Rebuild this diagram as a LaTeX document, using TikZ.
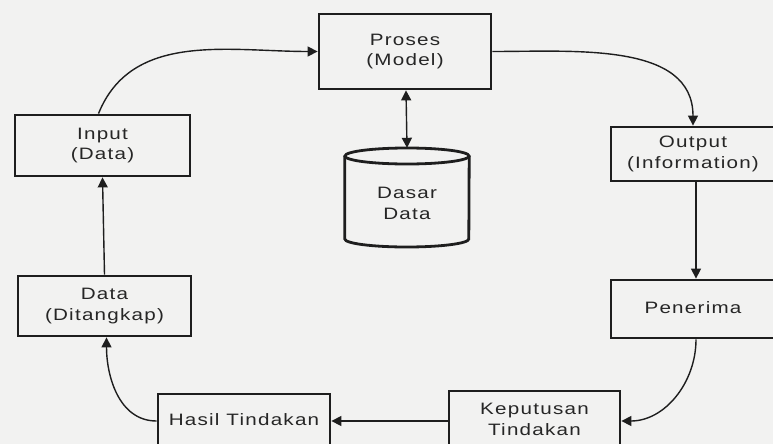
\documentclass[tikz,border=0pt]{standalone}
\usepackage{fontspec}
\usepackage{graphicx}
\usetikzlibrary{arrows.meta}
\newfontfamily\diagfont{Liberation Sans}[LetterSpace=6]
\newcommand{\boxtext}[1]{\scalebox{1.25}[1]{\begin{tabular}{@{}c@{}}#1\end{tabular}}}
\definecolor{paper}{RGB}{242,242,241}
\definecolor{ink}{RGB}{30,30,30}
\definecolor{txt}{RGB}{38,38,38}
\begin{document}
\begin{tikzpicture}[x=1pt,y=1pt,
  stage/.style={draw=ink,line width=2.8pt,rectangle,inner sep=0pt,
    font=\diagfont\fontsize{16.5}{20.5}\selectfont,text=txt},
  flow/.style={draw=ink,line width=1.4pt,-{Triangle[length=10pt,width=10pt]}},
  dflow/.style={draw=ink,line width=1.4pt,{Triangle[length=10pt,width=10pt]}-{Triangle[length=10pt,width=10pt]}}]
  % page
  \fill[paper] (0,0) rectangle (773,-444);
  \useasboundingbox (0,0) rectangle (773,-444);

  % process stages
  \node[stage,minimum width=172pt,minimum height=75pt] (proses) at (405,-51.5) {\boxtext{Proses\\(Model)}};
  \node[stage,minimum width=175pt,minimum height=61pt] (input) at (102.5,-145.5) {\boxtext{Input\\(Data)}};
  \node[stage,minimum width=164pt,minimum height=54pt] (output) at (693,-154) {\boxtext{Output\\(Information)}};
  \node[stage,minimum width=164pt,minimum height=58pt] (penerima) at (693,-309) {\boxtext{Penerima}};
  \node[stage,minimum width=171pt,minimum height=60pt] (keputusan) at (534.5,-421) {\boxtext{Keputusan\\Tindakan}};
  \node[stage,minimum width=172pt,minimum height=54pt] (hasil) at (244,-421) {\boxtext{Hasil Tindakan}};
  \node[stage,minimum width=173pt,minimum height=60pt] (data) at (104.5,-306) {\boxtext{Data\\(Ditangkap)}};

  % database cylinder
  \node[minimum width=124pt,minimum height=100pt,inner sep=0pt] (db) at (407,-198) {};
  \draw[ink,line width=2.8pt]
    (db.west |- 0,-156) -- (db.west |- 0,-239)
    arc[start angle=180,end angle=360,x radius=62pt,y radius=8pt]
    -- (db.east |- 0,-156);
  \draw[ink,line width=2.8pt] (407,-156) ellipse[x radius=62pt,y radius=8pt];
  \node[font=\diagfont\fontsize{16.5}{20.5}\selectfont,text=txt] (dbtext) at (407,-205) {\boxtext{Dasar\\Data}};

  % connectors
  \draw[flow] ([xshift=-4pt]input.north) to[out=68,in=180] (proses.west);
  \draw[flow] (proses.east) to[out=0,in=90] (output.north);
  \draw[dflow] ([xshift=1pt]proses.south) -- (db.north);
  \draw[flow] ([xshift=3pt]output.south) -- ([xshift=3pt]penerima.north);
  \draw[flow] ([xshift=3pt]penerima.south) to[out=-90,in=0] (keputusan.east);
  \draw[flow] (keputusan.west) -- (hasil.east);
  \draw[flow] (hasil.west) to[out=180,in=-90] ([xshift=2pt]data.south);
  \draw[flow] (data.north) -- (input.south);
\end{tikzpicture}
\end{document}
